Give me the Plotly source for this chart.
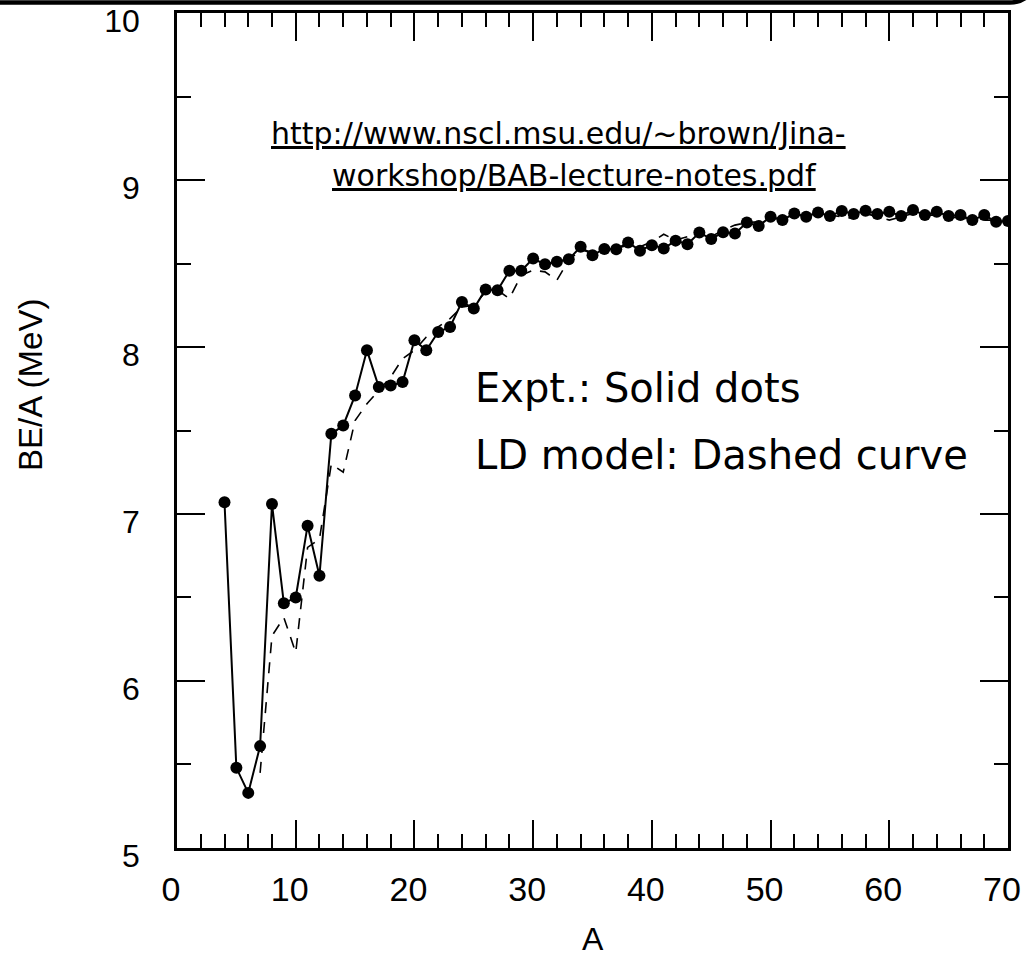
import plotly.graph_objects as go

# Binding energy per nucleon vs mass number
mass_number = list(range(4, 71))
be_expt = [
    7.07, 5.48, 5.33, 5.61, 7.06, 6.465, 6.50, 6.93, 6.63, 7.48,
    7.53, 7.71, 7.98, 7.76, 7.77, 7.79, 8.04, 7.98, 8.09, 8.12,
    8.27, 8.23, 8.345, 8.34, 8.457, 8.457, 8.53, 8.495, 8.51, 8.525,
    8.60, 8.55, 8.587, 8.585, 8.626, 8.577, 8.61, 8.59, 8.637, 8.615,
    8.685, 8.647, 8.687, 8.68, 8.745, 8.725, 8.78, 8.76, 8.80, 8.78,
    8.805, 8.785, 8.814, 8.796, 8.816, 8.796, 8.81, 8.785, 8.82, 8.79,
    8.81, 8.785, 8.79, 8.76, 8.79, 8.75, 8.755,
]

# Liquid-drop model curve
mass_number_ld = list(range(7, 71))
be_ld = [
    5.45, 6.27, 6.38, 6.17, 6.80, 6.85, 7.30, 7.25, 7.56, 7.66,
    7.74, 7.82, 7.93, 7.98, 8.06, 8.12, 8.17, 8.24, 8.25, 8.33,
    8.34, 8.29, 8.43, 8.46, 8.45, 8.40, 8.52, 8.58, 8.57, 8.58,
    8.59, 8.61, 8.60, 8.63, 8.675, 8.64, 8.66, 8.70, 8.66, 8.70,
    8.73, 8.745, 8.75, 8.77, 8.77, 8.79, 8.79, 8.80, 8.79, 8.78,
    8.77, 8.80, 8.78, 8.76, 8.78, 8.80, 8.79, 8.79, 8.78, 8.77,
    8.77, 8.76, 8.76, 8.76,
]

x_ticks = [0, 10, 20, 30, 40, 50, 60, 70]
y_ticks = [5, 6, 7, 8, 9, 10]

W, H = 1032, 959
L, R, T, B = 177, 1008, 13, 848


def px(xp):
    return (xp - L) / (R - L)


def py(yp):
    return (B - yp) / (B - T)


fig = go.Figure()

fig.add_trace(go.Scatter(
    x=mass_number_ld, y=be_ld, mode="lines",
    line=dict(color="black", width=1.6, dash="11px,9px"),
    hoverinfo="skip", showlegend=False,
))
fig.add_trace(go.Scatter(
    x=mass_number, y=be_expt, mode="lines+markers",
    line=dict(color="black", width=2),
    marker=dict(color="black", size=12),
    showlegend=False,
))

sans = "Liberation Sans, Arial, sans-serif"

axis_common = dict(
    showgrid=False, zeroline=False, automargin=False,
    showline=True, linecolor="black", linewidth=2.5,
    mirror="allticks", ticks="inside", ticklen=28, tickwidth=2, tickcolor="black",
    ticklabeloverflow="allow",
)

fig.update_xaxes(
    range=[-0.001, 70.001], tickvals=x_ticks,
    minor=dict(dtick=2, ticks="inside", ticklen=14, tickwidth=2, tickcolor="black"),
    ticklabelstandoff=9, ticklabelshift=-6,
    tickfont=dict(family=sans, size=34, color="black"),
    **axis_common,
)
fig.update_yaxes(
    range=[4.9999, 10.0001], tickvals=y_ticks,
    minor=dict(dtick=0.5, ticks="inside", ticklen=14, tickwidth=2, tickcolor="black"),
    ticklabelstandoff=28, ticklabelshift=8,
    tickfont=dict(family=sans, size=32, color="black"),
    **axis_common,
)

txt = "DejaVu Sans, Lato, sans-serif"
annotations = [
    dict(text="BE/A (MeV)", x=px(30), y=py(385), textangle=-90,
         font=dict(family=sans, size=33, color="black")),
    dict(text="A", x=px(593), y=py(959), yanchor="bottom",
         font=dict(family=sans, size=32, color="black")),
    dict(text="http://www.nscl.msu.edu/~brown/Jina-", x=px(558), y=py(133),
         font=dict(family=txt, size=30, color="black", lineposition="under")),
    dict(text="workshop/BAB-lecture-notes.pdf", x=px(574), y=py(175),
         font=dict(family=txt, size=30, color="black", lineposition="under")),
    dict(text="Expt.: Solid dots", x=px(473), y=py(388), xanchor="left",
         font=dict(family=txt, size=40, color="black")),
    dict(text="LD model: Dashed curve", x=px(473), y=py(455), xanchor="left",
         font=dict(family=txt, size=40, color="black")),
]
for a in annotations:
    a.setdefault("xanchor", "center")
    a.setdefault("yanchor", "middle")
    fig.add_annotation(xref="paper", yref="paper", showarrow=False, **a)

# rounded frame edge running along the top of the page
fig.add_shape(
    type="path", xref="paper", yref="paper",
    path=(f"M {px(-2)},{py(2.5)} L {px(1010)},{py(2.5)} "
          f"Q {px(1022)},{py(2.5)} {px(1030)},{py(-6)}"),
    line=dict(color="black", width=4.5),
)

fig.update_layout(
    width=W, height=H,
    margin=dict(l=L, r=W - R, t=T, b=H - B, autoexpand=False),
    plot_bgcolor="white", paper_bgcolor="white",
)

fig.write_html("out.html")
